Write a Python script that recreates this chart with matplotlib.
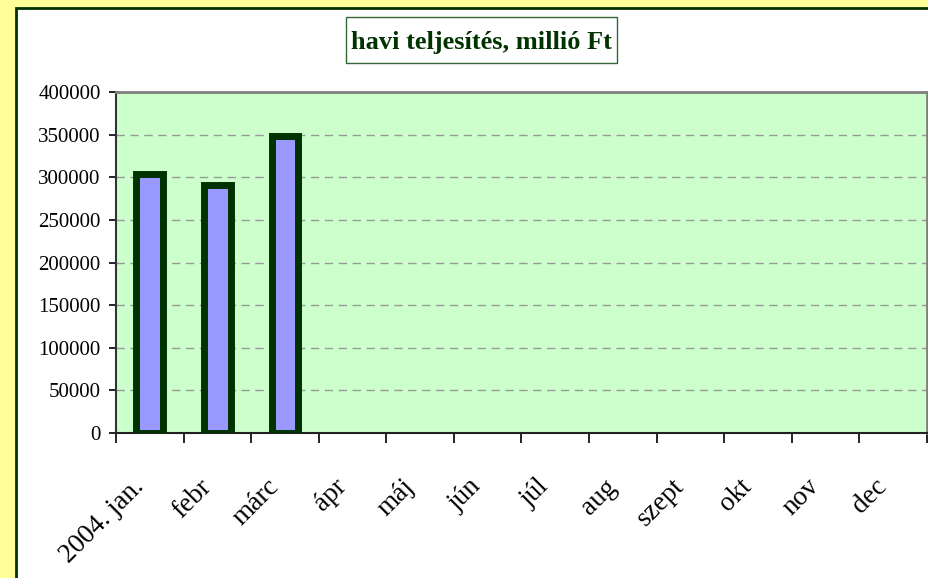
import matplotlib.pyplot as plt
import matplotlib as mpl
import matplotlib.transforms as mtransforms
from matplotlib.patches import Rectangle
import numpy as np

mpl.rcParams['font.family'] = ['Liberation Serif', 'DejaVu Serif']

months = ['2004. jan.', 'febr', 'márc', 'ápr', 'máj', 'jún',
          'júl', 'aug', 'szept', 'okt', 'nov', 'dec']
values = [303500, 291000, 348000]
yticks = np.arange(0, 400001, 50000)

W, H = 929, 578
fig = plt.figure(figsize=(W / 100, H / 100), dpi=100)
fig.patch.set_facecolor('#FFFF99')

# white chart area with dark green frame
fig.patches.append(Rectangle((16 / W, -0.05), 1.0, (578 - 8) / H + 0.05,
                             transform=fig.transFigure, facecolor='white',
                             edgecolor='#003300', linewidth=2, zorder=-5))

ax = fig.add_axes([116 / W, (H - 433) / H, (927 - 116) / W, (433 - 92) / H])
ax.set_facecolor('#CCFFCC')

x = np.arange(len(values))
ax.bar(x, values, width=0.395, color='#9999FF', edgecolor='#003300',
       linewidth=5, zorder=3)

ax.set_xlim(-0.5, len(months) - 0.5)
ax.set_ylim(0, 400000)
ax.set_yticks(yticks)
ax.set_yticklabels([str(v) for v in yticks], fontsize=15)
ax.yaxis.grid(True, linestyle=(0, (6, 4)), color='#999999', linewidth=1)
ax.set_axisbelow(True)

# ticks between categories, month labels under each category
ax.set_xticks(np.arange(len(months) + 1) - 0.5)
ax.set_xticklabels([])
ax.tick_params(axis='x', length=7, width=1.2, direction='out')
ax.tick_params(axis='y', length=5, width=1.2, direction='out', pad=6)

lbl_trans = mtransforms.blended_transform_factory(ax.transData, ax.transAxes) + \
    mtransforms.ScaledTranslation(-10 / 100, -50 / 100, fig.dpi_scale_trans)
for i, m in enumerate(months):
    ax.text(i, 0, m, transform=lbl_trans, rotation=45, ha='right',
            va='center', rotation_mode='anchor', fontsize=19.5, clip_on=False)

for s in ['top', 'right']:
    ax.spines[s].set_color('#808080')
    ax.spines[s].set_linewidth(2)
ax.spines['left'].set_color('#333333')
ax.spines['left'].set_linewidth(1.5)
ax.spines['bottom'].set_color('#222222')
ax.spines['bottom'].set_linewidth(1.5)

# title box
fig.patches.append(Rectangle((346 / W, 1 - 63 / H), (617 - 346) / W, 46 / H,
                             transform=fig.transFigure, facecolor='white',
                             edgecolor='#336633', linewidth=1, zorder=1))
fig.text(481.5 / W, 1 - 49 / H, 'havi teljesítés, millió Ft', ha='center',
         va='baseline', fontsize=19, fontweight='bold', color='#003300',
         zorder=2)

fig.savefig('out.png', dpi=100, facecolor=fig.get_facecolor())
